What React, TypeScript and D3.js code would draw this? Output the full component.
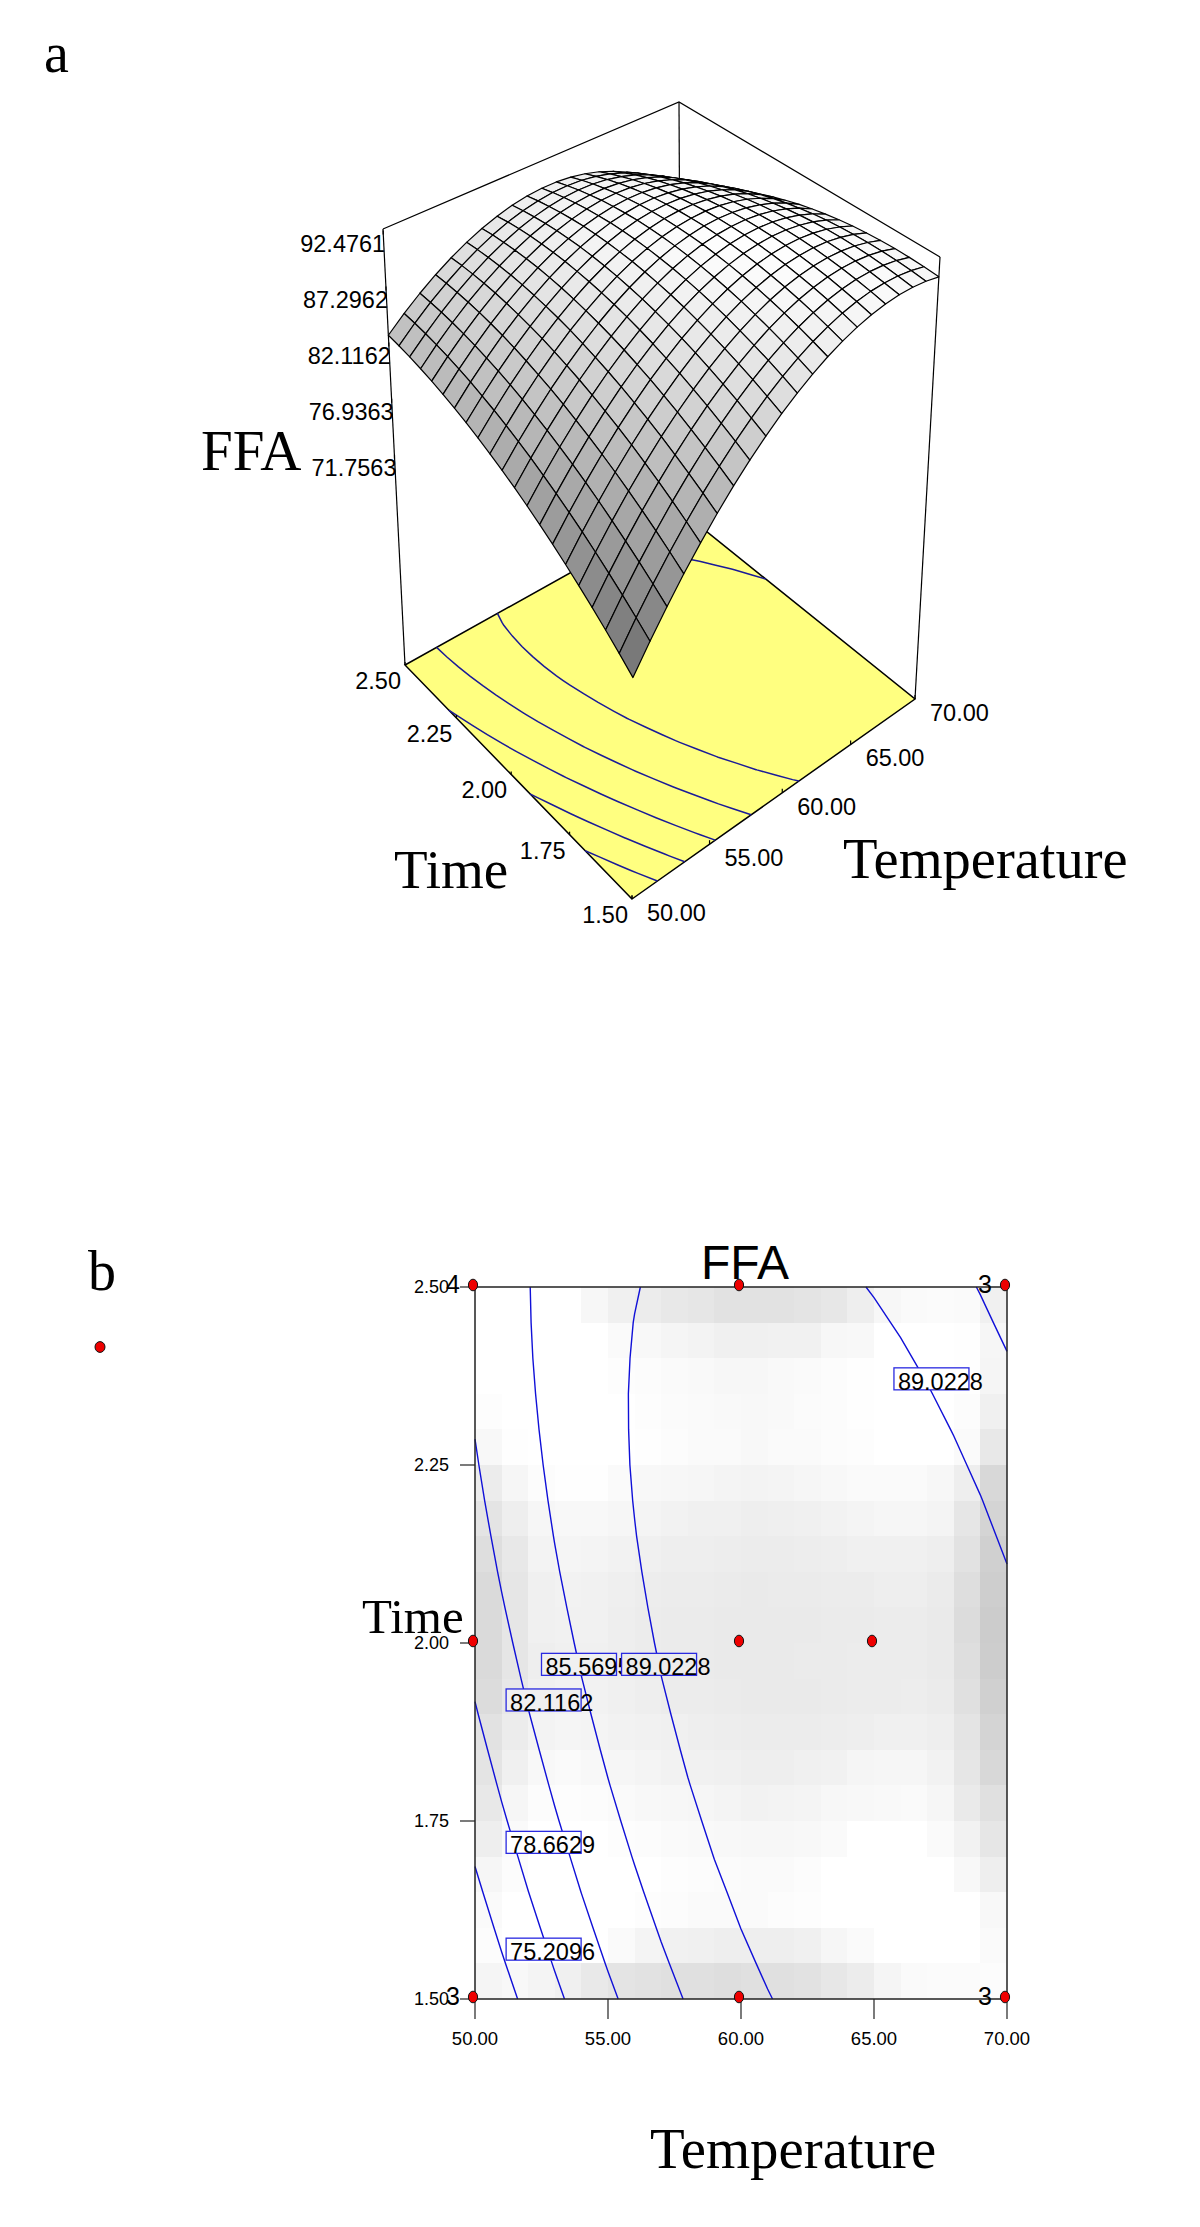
import React from "react";
import * as d3 from "d3";

// FFA response: one row per Time (1.50 -> 2.50), one column per Temperature (50 -> 70)
const temperatureGrid = d3.range(50, 71);
const timeGrid = d3.range(21).map(i => 1.5 + i * 0.05);
const ffaRows: number[][] = [
  [71.73, 73.95, 76.04, 78.0, 79.82, 81.52, 83.08, 84.5, 85.8, 86.96, 87.99, 88.88, 89.65, 90.28, 90.78, 91.15, 91.38, 91.48, 91.45, 91.29, 90.99],
  [72.73, 74.91, 76.95, 78.86, 80.64, 82.29, 83.8, 85.19, 86.43, 87.55, 88.54, 89.39, 90.11, 90.69, 91.15, 91.47, 91.66, 91.71, 91.64, 91.43, 91.09],
  [73.69, 75.82, 77.82, 79.68, 81.42, 83.02, 84.49, 85.82, 87.03, 88.1, 89.04, 89.85, 90.52, 91.06, 91.47, 91.75, 91.89, 91.9, 91.78, 91.53, 91.14],
  [74.59, 76.68, 78.63, 80.45, 82.14, 83.7, 85.12, 86.42, 87.57, 88.6, 89.49, 90.26, 90.88, 91.38, 91.75, 91.98, 92.08, 92.04, 91.88, 91.58, 91.15],
  [75.45, 77.5, 79.4, 81.18, 82.82, 84.34, 85.71, 86.96, 88.07, 89.06, 89.9, 90.62, 91.2, 91.66, 91.97, 92.16, 92.21, 92.14, 91.93, 91.58, 91.11],
  [76.27, 78.27, 80.13, 81.86, 83.46, 84.93, 86.26, 87.46, 88.53, 89.47, 90.27, 90.94, 91.48, 91.89, 92.16, 92.3, 92.31, 92.19, 91.93, 91.54, 91.02],
  [77.04, 78.99, 80.81, 82.49, 84.05, 85.47, 86.76, 87.91, 88.94, 89.83, 90.59, 91.21, 91.71, 92.07, 92.3, 92.39, 92.36, 92.19, 91.89, 91.45, 90.89],
  [77.76, 79.67, 81.44, 83.08, 84.59, 85.97, 87.21, 88.32, 89.3, 90.15, 90.86, 91.44, 91.89, 92.21, 92.39, 92.44, 92.36, 92.14, 91.8, 91.32, 90.71],
  [78.44, 80.3, 82.03, 83.62, 85.09, 86.42, 87.62, 88.68, 89.62, 90.42, 91.09, 91.62, 92.02, 92.3, 92.43, 92.44, 92.31, 92.05, 91.66, 91.14, 90.48],
  [79.07, 80.89, 82.57, 84.12, 85.54, 86.82, 87.98, 89.0, 89.89, 90.64, 91.27, 91.76, 92.12, 92.34, 92.43, 92.4, 92.22, 91.92, 91.48, 90.91, 90.21],
  [79.66, 81.43, 83.06, 84.57, 85.94, 87.18, 88.29, 89.27, 90.11, 90.82, 91.4, 91.85, 92.16, 92.34, 92.39, 92.3, 92.09, 91.74, 91.26, 90.64, 89.9],
  [80.19, 81.92, 83.51, 84.97, 86.3, 87.5, 88.56, 89.49, 90.29, 90.96, 91.49, 91.89, 92.16, 92.29, 92.3, 92.17, 91.9, 91.51, 90.98, 90.32, 89.53],
  [80.69, 82.37, 83.92, 85.33, 86.62, 87.77, 88.78, 89.67, 90.42, 91.04, 91.53, 91.89, 92.11, 92.2, 92.16, 91.98, 91.68, 91.24, 90.67, 89.96, 89.12],
  [81.14, 82.77, 84.27, 85.64, 86.88, 87.99, 88.96, 89.8, 90.51, 91.08, 91.53, 91.84, 92.02, 92.06, 91.97, 91.75, 91.4, 90.92, 90.3, 89.55, 88.67],
  [81.54, 83.13, 84.58, 85.91, 87.1, 88.16, 89.09, 89.89, 90.55, 91.08, 91.48, 91.74, 91.88, 91.88, 91.74, 91.48, 91.08, 90.55, 89.89, 89.1, 88.17],
  [81.89, 83.44, 84.85, 86.13, 87.28, 88.29, 89.18, 89.93, 90.54, 91.03, 91.38, 91.6, 91.69, 91.65, 91.47, 91.16, 90.72, 90.14, 89.43, 88.6, 87.62],
  [82.2, 83.7, 85.07, 86.3, 87.41, 88.38, 89.21, 89.92, 90.49, 90.93, 91.24, 91.42, 91.46, 91.37, 91.15, 90.79, 90.3, 89.68, 88.93, 88.05, 87.03],
  [82.46, 83.92, 85.24, 86.43, 87.49, 88.41, 89.21, 89.87, 90.39, 90.79, 91.05, 91.18, 91.18, 91.05, 90.78, 90.38, 89.85, 89.18, 88.38, 87.45, 86.39],
  [82.68, 84.09, 85.37, 86.51, 87.53, 88.41, 89.15, 89.77, 90.25, 90.6, 90.82, 90.9, 90.86, 90.68, 90.36, 89.92, 89.34, 88.63, 87.79, 86.81, 85.71],
  [82.85, 84.22, 85.45, 86.55, 87.52, 88.35, 89.06, 89.63, 90.06, 90.37, 90.54, 90.58, 90.49, 90.26, 89.9, 89.41, 88.79, 88.04, 87.15, 86.13, 84.98],
  [82.98, 84.3, 85.49, 86.54, 87.46, 88.25, 88.91, 89.43, 89.83, 90.09, 90.21, 90.21, 90.07, 89.8, 89.4, 88.86, 88.19, 87.39, 86.46, 85.41, 84.2]
];

// background grey of the contour panel, top row first (Time 2.50 -> 1.50)
const shadeRows: number[][] = [
  [255, 255, 255, 255, 247, 240, 236, 232, 230, 226, 226, 226, 228, 231, 238, 247, 250, 251, 250, 240],
  [255, 255, 255, 255, 255, 250, 248, 245, 243, 240, 240, 241, 241, 247, 248, 255, 255, 255, 254, 246],
  [255, 255, 255, 255, 255, 253, 252, 250, 249, 247, 247, 249, 250, 252, 254, 255, 255, 255, 254, 245],
  [253, 255, 255, 255, 255, 255, 253, 251, 250, 249, 248, 249, 251, 252, 254, 255, 255, 255, 252, 240],
  [248, 254, 255, 255, 255, 255, 254, 252, 250, 250, 248, 250, 250, 252, 253, 255, 255, 255, 250, 232],
  [236, 246, 252, 254, 254, 250, 248, 247, 246, 244, 243, 244, 246, 248, 250, 250, 250, 247, 238, 216],
  [228, 238, 246, 248, 248, 246, 244, 242, 240, 240, 238, 239, 240, 242, 244, 246, 246, 244, 230, 212],
  [222, 232, 243, 245, 244, 242, 240, 238, 238, 237, 236, 236, 237, 238, 240, 240, 240, 238, 226, 208],
  [218, 230, 240, 242, 241, 239, 237, 236, 236, 235, 234, 235, 235, 236, 236, 238, 238, 235, 222, 206],
  [218, 230, 240, 241, 241, 238, 236, 235, 235, 234, 234, 234, 234, 235, 235, 236, 236, 234, 220, 204],
  [218, 230, 238, 240, 240, 238, 236, 235, 235, 234, 234, 234, 235, 235, 236, 236, 236, 234, 222, 205],
  [220, 232, 240, 242, 242, 240, 238, 236, 236, 235, 234, 234, 234, 235, 236, 236, 237, 235, 224, 208],
  [226, 236, 243, 245, 244, 242, 241, 240, 238, 237, 236, 236, 236, 237, 238, 240, 240, 238, 228, 212],
  [228, 240, 248, 250, 248, 246, 244, 242, 241, 240, 238, 238, 240, 241, 245, 246, 246, 242, 230, 216],
  [232, 246, 252, 253, 252, 250, 248, 247, 246, 244, 242, 243, 244, 247, 248, 249, 250, 246, 234, 224],
  [238, 250, 255, 255, 255, 253, 252, 250, 249, 248, 247, 247, 248, 250, 255, 255, 255, 250, 242, 230],
  [246, 252, 255, 255, 255, 255, 255, 253, 252, 251, 250, 250, 252, 255, 255, 255, 255, 255, 248, 238],
  [250, 255, 255, 255, 255, 255, 253, 252, 250, 250, 250, 252, 253, 255, 255, 255, 255, 255, 255, 248],
  [252, 255, 255, 255, 255, 250, 244, 241, 240, 238, 238, 238, 240, 246, 250, 255, 255, 255, 255, 250],
  [245, 248, 244, 240, 233, 228, 226, 224, 224, 222, 224, 224, 226, 231, 236, 245, 250, 251, 251, 252]
];

const contourLevels = [75.2096, 78.6629, 82.1162, 85.5695, 89.0228];
const temperatureTicks = [50, 55, 60, 65, 70];
const timeTicks = [1.5, 1.75, 2, 2.25, 2.5];
const ffaTicks = [71.7563, 76.9363, 82.1162, 87.2962, 92.4761];

const designTemperature = [50, 60, 70, 50, 60, 65, 50, 60, 70];
const designTime = [2.5, 2.5, 2.5, 2, 2, 2, 1.5, 1.5, 1.5];
const replicateTemperature = [50, 70, 50, 70];
const replicateTime = [2.5, 2.5, 1.5, 1.5];
const replicateCount = ["4", "3", "3", "3"];

const labelValues = ["75.2096", "78.6629", "82.1162", "85.5695", "89.0228", "89.0228"];
const labelTemperature = [51.17, 51.17, 51.17, 52.5, 55.51, 65.75];
const labelTime = [1.57, 1.72, 1.92, 1.97, 1.97, 2.371];

const SANS = "Liberation Sans, Arial, sans-serif";
const SERIF = "Liberation Serif, Times New Roman, serif";

type Pt = [number, number];

// square -> quad perspective map, corners in order (0,0) (1,0) (1,1) (0,1)
function quadMap(q: Pt[]) {
  const [[x0, y0], [x1, y1], [x2, y2], [x3, y3]] = q;
  const dx1 = x1 - x2, dx2 = x3 - x2, sx = x0 - x1 + x2 - x3;
  const dy1 = y1 - y2, dy2 = y3 - y2, sy = y0 - y1 + y2 - y3;
  const den = dx1 * dy2 - dx2 * dy1;
  const g = (sx * dy2 - dx2 * sy) / den;
  const h = (dx1 * sy - sx * dy1) / den;
  const a = x1 - x0 + g * x1, b = x3 - x0 + h * x3;
  const d = y1 - y0 + g * y1, e = y3 - y0 + h * y3;
  return (u: number, v: number): Pt => {
    const w = g * u + h * v + 1;
    return [(a * u + b * v + x0) / w, (d * u + e * v + y0) / w];
  };
}

const floorMap = quadMap([[632, 899], [915, 699], [681, 511], [405, 665]]);
const topMap = quadMap([[634, 435], [940, 257], [679, 102], [383, 229]]);
const uScale = d3.scaleLinear().domain([50, 70]).range([0, 1]);
const vScale = d3.scaleLinear().domain([1.5, 2.5]).range([0, 1]);
const hScale = d3.scaleLinear().domain([52.5, 92.8]).range([0, 1]);
const greyScale = d3.scaleLinear().domain([71.7563, 92.4761]).range([110, 255]);

function project(T: number, t: number, z: number): Pt {
  const u = uScale(T), v = vScale(t), h = hScale(z);
  const p0 = floorMap(u, v), p1 = topMap(u, v);
  return [p0[0] + (p1[0] - p0[0]) * h, p0[1] + (p1[1] - p0[1]) * h];
}
const floorZ = hScale.domain()[0];
const topZ = hScale.domain()[1];
const floorPt = (T: number, t: number) => project(T, t, floorZ);

// contour lines from the table, border pieces of the rings dropped
const gridT = d3.scaleLinear().domain([0.5, 20.5]).range([50, 70]);
const gridTime = d3.scaleLinear().domain([0.5, 20.5]).range([1.5, 2.5]);

function contourLines(): Pt[][] {
  const flat = ffaRows.flat();
  const rings = d3.contours().size([21, 21]).smooth(true).thresholds(contourLevels)(flat);
  const lines: Pt[][] = [];
  rings.forEach(mp => {
    mp.coordinates.forEach(poly => {
      poly.forEach(ring => {
        const inside = (p: number[]) => p[0] >= 0.5 && p[0] <= 20.5 && p[1] >= 0.5 && p[1] <= 20.5;
        // start the walk on an outside point so no line gets split at the ring seam
        let start = ring.findIndex(p => !inside(p));
        if (start < 0) start = 0;
        let cur: Pt[] = [];
        for (let i = 0; i < ring.length; i++) {
          const p = ring[(start + i) % ring.length];
          if (inside(p)) {
            cur.push([gridT(p[0]), gridTime(p[1])]);
          } else {
            if (cur.length > 1) lines.push(cur);
            cur = [];
          }
        }
        if (cur.length > 1) lines.push(cur);
      });
    });
  });
  // the frame itself is not a contour
  return lines.filter(l => {
    const onEdge = (p: Pt) => p[0] <= 50.001 || p[0] >= 69.999 || p[1] <= 1.5001 || p[1] >= 2.4999;
    return !l.every(onEdge);
  }).map(l => {
    // trim runs along the frame at both ends
    const onX = (p: Pt) => p[0] <= 50.001 || p[0] >= 69.999;
    const onY = (p: Pt) => p[1] <= 1.5001 || p[1] >= 2.4999;
    let s = 0, e = l.length - 1;
    while (s < e - 1 && ((onX(l[s]) && onX(l[s + 1])) || (onY(l[s]) && onY(l[s + 1])))) s++;
    while (e > s + 1 && ((onX(l[e]) && onX(l[e - 1])) || (onY(l[e]) && onY(l[e - 1])))) e--;
    return l.slice(s, e + 1);
  });
}

function SurfacePanel({ lines }: { lines: Pt[][] }) {
  const pathOf = d3.line<Pt>();
  const floorPath = pathOf([floorPt(50, 1.5), floorPt(70, 1.5), floorPt(70, 2.5), floorPt(50, 2.5)]) + "Z";

  // back corner first, front corner last
  const cells: { i: number; j: number }[] = [];
  d3.range(20).forEach(j => d3.range(20).forEach(i => cells.push({ i, j })));
  cells.sort((a, b) => b.i + b.j - (a.i + a.j));

  const node = (i: number, j: number) => project(temperatureGrid[i], timeGrid[j], ffaRows[j][i]);
  const top = (T: number, t: number) => project(T, t, topZ);

  return (
    <g>
      <path d={floorPath} fill="#ffff80" stroke="#000" strokeWidth={1.5} />
      {lines.map((l, k) => (
        <path key={k} d={pathOf(l.map(p => floorPt(p[0], p[1]))) || ""} fill="none" stroke="#1a1a98" strokeWidth={1.5} />
      ))}
      {[[50, 2.5], [70, 1.5], [70, 2.5]].map(([T, t], k) => {
        const a = floorPt(T, t), b = top(T, t);
        return <line key={k} x1={a[0]} y1={a[1]} x2={b[0]} y2={b[1]} stroke="#000" strokeWidth={1.2} />;
      })}
      <path d={pathOf([top(50, 2.5), top(70, 2.5), top(70, 1.5)]) || ""} fill="none" stroke="#000" strokeWidth={1.2} />

      {cells.map(({ i, j }) => {
        const mean = d3.mean([ffaRows[j][i], ffaRows[j][i + 1], ffaRows[j + 1][i], ffaRows[j + 1][i + 1]]) as number;
        const g = Math.round(greyScale(mean));
        return (
          <path
            key={i + "_" + j}
            d={pathOf([node(i, j), node(i + 1, j), node(i + 1, j + 1), node(i, j + 1)]) + "Z"}
            fill={`rgb(${g},${g},${g})`}
            stroke="#000"
            strokeWidth={1.2}
            strokeLinejoin="round"
          />
        );
      })}

      {ffaTicks.map(v => {
        const p = project(50, 2.5, v);
        return (
          <g key={v}>
            <line x1={p[0]} x2={p[0]} y1={p[1] - 2} y2={p[1] + 2} stroke="#000" strokeWidth={1.2} />
            <text x={p[0] + 2} y={p[1] + 19} textAnchor="end" fontFamily={SANS} fontSize={23.5}>
              {v.toFixed(4)}
            </text>
          </g>
        );
      })}
      {timeTicks.map(v => {
        const p = floorPt(50, v);
        return (
          <g key={v}>
            <line x1={p[0]} x2={p[0]} y1={p[1] - 3} y2={p[1]} stroke="#000" strokeWidth={1.2} />
            <text x={p[0] - 4} y={p[1] + 24} textAnchor="end" fontFamily={SANS} fontSize={23.5}>
              {v.toFixed(2)}
            </text>
          </g>
        );
      })}
      {temperatureTicks.map(v => {
        const p = floorPt(v, 1.5);
        return (
          <g key={v}>
            <line x1={p[0]} x2={p[0]} y1={p[1] - 4} y2={p[1]} stroke="#000" strokeWidth={1.2} />
            <text x={p[0] + 15} y={p[1] + 22} fontFamily={SANS} fontSize={23.5}>
              {v.toFixed(2)}
            </text>
          </g>
        );
      })}
      <text x={201} y={470} fontFamily={SERIF} fontSize={57}>FFA</text>
      <text x={394} y={888} fontFamily={SERIF} fontSize={55}>Time</text>
      <text x={843} y={878} fontFamily={SERIF} fontSize={56.5}>Temperature</text>
    </g>
  );
}

function ContourPanel({ lines }: { lines: Pt[][] }) {
  const x = d3.scaleLinear().domain([50, 70]).range([475, 1007]);
  const y = d3.scaleLinear().domain([1.5, 2.5]).range([1999, 1287]);
  const col = d3.scaleLinear().domain([50, 70]).range([0, 20]);
  const row = d3.scaleLinear().domain([2.5, 1.5]).range([0, 20]);
  const cellLine = d3.line<Pt>().x(p => x(p[0])).y(p => y(p[1]));

  return (
    <g>
      {shadeRows.map((r, j) =>
        r.map((g, i) => (
          <rect
            key={i + "_" + j}
            x={x(50 + i)}
            y={y(2.5 - j * 0.05)}
            width={x(51) - x(50)}
            height={y(2.45) - y(2.5)}
            fill={`rgb(${g},${g},${g})`}
            shapeRendering="crispEdges"
          />
        ))
      )}
      {lines.map((l, k) => (
        <path key={k} d={cellLine(l) || ""} fill="none" stroke="#1010d8" strokeWidth={1.4} />
      ))}
      <rect x={475} y={1287} width={532} height={712} fill="none" stroke="#222" strokeWidth={1.5} />

      {timeTicks.map(v => (
        <g key={v}>
          <line x1={460} x2={475} y1={y(v)} y2={y(v)} stroke="#222" strokeWidth={1.2} />
          <text x={449} y={y(v) + 6} textAnchor="end" fontFamily={SANS} fontSize={18}>{v.toFixed(2)}</text>
        </g>
      ))}
      {temperatureTicks.map(v => (
        <g key={v}>
          <line x1={x(v)} x2={x(v)} y1={1999} y2={2019} stroke="#222" strokeWidth={1.2} />
          <text x={x(v)} y={2045} textAnchor="middle" fontFamily={SANS} fontSize={18.5}>{v.toFixed(2)}</text>
        </g>
      ))}

      {labelValues.map((v, k) => {
        const bx = x(labelTemperature[k]);
        const by = y(labelTime[k]);
        const g = shadeRows[Math.floor(row(labelTime[k]))][Math.floor(col(labelTemperature[k] + 1.4))];
        return (
          <g key={k}>
            <rect x={bx} y={by - 11} width={75} height={22} fill={`rgb(${g},${g},${g})`} stroke="#2a2ae0" strokeWidth={1.3} />
            <text x={bx + 4} y={by + 11} fontFamily={SANS} fontSize={23.5}>{v}</text>
          </g>
        );
      })}

      {designTemperature.map((T, k) => (
        <ellipse key={k} cx={x(T) - 2} cy={y(designTime[k]) - 2} rx={4.6} ry={5.8} fill="#ee0000" stroke="#111" strokeWidth={1} />
      ))}
      {replicateCount.map((n, k) => (
        <text
          key={k}
          x={x(replicateTemperature[k]) - 15}
          y={y(replicateTime[k]) + 6}
          textAnchor="end"
          fontFamily={SANS}
          fontSize={25}
        >
          {n}
        </text>
      ))}

      <text x={745} y={1279} textAnchor="middle" fontFamily={SANS} fontSize={48}>FFA</text>
      <text x={362} y={1633} fontFamily={SERIF} fontSize={49}>Time</text>
      <text x={650} y={2168} fontFamily={SERIF} fontSize={56.8}>Temperature</text>
      <ellipse cx={100} cy={1347} rx={5} ry={5.4} fill="#ee0000" stroke="#111" strokeWidth={1} />
    </g>
  );
}

export default function App() {
  const lines = contourLines();
  return (
    <svg width={1200} height={2227} style={{ position: "absolute", left: 0, top: 0, background: "#fff" }}>
      <text x={44} y={72} fontFamily={SERIF} fontSize={56}>a</text>
      <text x={88} y={1290} fontFamily={SERIF} fontSize={56}>b</text>
      <SurfacePanel lines={lines} />
      <ContourPanel lines={lines} />
    </svg>
  );
}
